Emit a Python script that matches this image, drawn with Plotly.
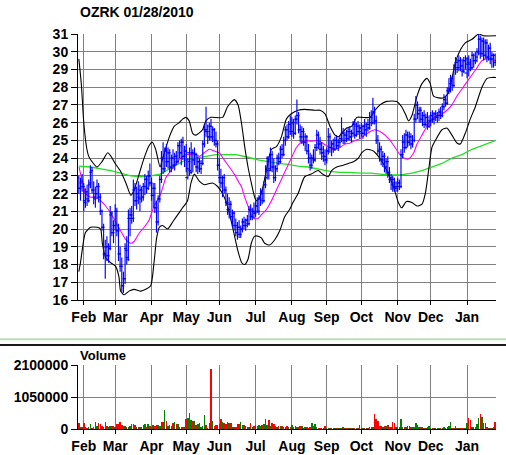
import plotly.graph_objects as go

title_text = "OZRK 01/28/2010"
month_labels = ["Feb", "Mar", "Apr", "May", "Jun", "Jul", "Aug", "Sep", "Oct", "Nov", "Dec", "Jan"]
month_start_idx = [3, 22, 44, 65, 85, 107, 129, 150, 171, 193, 213, 235]
price_ticks = list(range(16, 32))
volume_ticks = [0, 1050000, 2100000]

# daily OHLC (trading-day index 0 = 2009-01-28)
ohlc_rows = [
    (22.9, 23.0, 22.0, 22.3), (22.3, 22.9, 21.6, 22.7), (22.6, 23.1, 22.1, 22.4), (22.4, 22.6, 21.0, 21.5),
    (21.6, 22.3, 21.2, 22.1), (22.1, 22.5, 21.3, 21.6), (21.7, 22.8, 21.5, 22.6), (22.5, 23.6, 22.3, 23.3),
    (23.2, 23.5, 22.0, 22.2), (22.2, 22.7, 21.4, 21.7), (21.8, 22.4, 21.2, 22.0), (22.0, 22.8, 21.7, 22.4),
    (22.4, 22.6, 21.5, 21.8), (21.8, 22.0, 20.8, 21.0), (21.0, 21.1, 19.9, 20.1), (20.1, 20.3, 18.3, 18.6),
    (18.6, 19.4, 17.2, 19.0), (19.0, 19.6, 18.2, 18.5), (18.5, 19.2, 18.1, 18.9), (19.0, 21.3, 18.8, 20.9),
    (20.8, 21.0, 19.6, 19.8), (19.8, 20.5, 19.2, 20.2), (20.2, 21.4, 19.9, 21.0), (21.0, 21.2, 19.6, 19.9),
    (19.9, 20.3, 18.2, 18.6), (18.6, 19.0, 17.6, 17.9), (17.9, 18.4, 16.4, 16.8), (16.8, 17.6, 16.4, 17.2),
    (17.2, 19.2, 16.9, 18.8), (18.9, 19.6, 18.0, 18.3), (18.4, 21.1, 18.2, 20.6), (20.6, 21.2, 19.6, 20.8),
    (20.8, 21.3, 20.3, 20.6), (20.6, 22.8, 20.4, 22.3), (22.2, 22.6, 21.3, 21.6), (21.6, 22.4, 21.1, 22.0),
    (22.0, 22.7, 21.4, 21.7), (21.8, 22.5, 21.0, 22.2), (22.2, 22.4, 21.5, 21.8), (21.8, 22.6, 21.6, 22.4),
    (22.4, 23.1, 21.9, 22.8), (22.8, 23.0, 22.0, 22.3), (22.3, 23.3, 22.2, 23.0), (23.0, 23.7, 22.4, 22.6),
    (22.6, 22.9, 21.6, 21.9), (21.9, 22.6, 21.2, 22.3), (22.3, 22.6, 20.9, 21.2), (21.2, 21.6, 19.8, 20.4),
    (20.4, 21.9, 20.2, 21.7), (21.7, 23.0, 21.5, 22.8), (22.8, 24.4, 22.6, 24.0), (24.0, 24.9, 23.1, 23.4),
    (23.4, 24.6, 23.2, 24.4), (24.4, 24.8, 23.5, 23.8), (23.8, 24.6, 23.4, 24.3), (24.3, 24.5, 23.2, 23.5),
    (23.5, 24.2, 23.2, 24.0), (24.0, 24.5, 23.4, 23.6), (23.6, 24.3, 23.3, 24.1), (24.1, 24.4, 23.6, 23.8),
    (23.8, 24.9, 23.7, 24.7), (24.7, 25.0, 24.0, 24.3), (24.3, 25.1, 23.6, 24.9), (24.9, 25.2, 23.9, 24.1),
    (24.1, 24.7, 23.5, 24.4), (24.4, 24.8, 23.2, 23.4), (22.9, 24.0, 22.8, 23.8), (24.3, 24.6, 23.0, 23.2),
    (23.3, 24.9, 23.1, 24.3), (24.3, 24.5, 23.2, 23.9), (23.9, 24.6, 23.6, 24.2), (24.2, 24.3, 23.2, 23.5),
    (23.5, 24.1, 23.1, 23.8), (23.8, 24.0, 23.2, 23.4), (23.4, 23.9, 23.1, 23.7), (23.7, 25.0, 23.6, 24.8),
    (24.8, 25.9, 24.6, 25.6), (25.6, 26.9, 25.2, 25.5), (25.5, 25.9, 24.8, 25.2), (25.2, 26.0, 25.0, 25.8),
    (25.8, 26.2, 25.0, 25.2), (25.2, 25.8, 24.9, 25.6), (25.6, 25.7, 24.7, 25.0), (25.0, 25.5, 24.6, 24.8),
    (24.8, 25.0, 23.3, 23.6), (23.6, 24.0, 22.6, 22.9), (22.9, 23.4, 22.3, 22.6), (22.6, 23.0, 21.8, 22.9),
    (22.9, 23.1, 22.0, 22.2), (22.2, 22.4, 21.3, 21.5), (21.5, 22.0, 20.8, 21.1), (21.1, 21.8, 20.6, 21.4),
    (21.4, 21.6, 20.5, 20.7), (20.7, 21.1, 20.1, 20.9), (20.9, 21.0, 19.9, 20.2), (20.2, 20.6, 19.6, 19.8),
    (19.8, 20.4, 19.4, 20.1), (20.1, 20.5, 19.5, 19.7), (19.7, 20.2, 19.5, 20.0), (20.0, 20.6, 19.8, 20.4),
    (20.4, 20.7, 20.0, 20.2), (20.2, 20.6, 19.9, 20.5), (20.5, 20.8, 20.1, 20.3), (20.3, 21.3, 20.2, 21.1),
    (21.1, 21.4, 20.5, 20.7), (20.7, 21.2, 20.5, 21.0), (21.0, 21.5, 20.6, 20.9), (20.9, 21.6, 20.7, 21.3),
    (21.3, 21.8, 20.9, 21.0), (21.0, 21.9, 20.8, 21.7), (21.7, 22.3, 21.3, 22.0), (22.0, 22.2, 21.4, 21.6),
    (21.6, 22.7, 21.5, 22.5), (22.5, 23.6, 22.3, 23.3), (22.9, 24.1, 22.8, 23.9), (24.0, 24.1, 22.8, 23.3),
    (23.4, 24.6, 23.3, 24.2), (24.2, 24.4, 23.2, 23.5), (23.5, 24.0, 22.6, 22.9), (22.9, 23.6, 22.7, 23.4),
    (23.4, 24.2, 23.2, 24.0), (24.0, 24.3, 23.6, 23.8), (23.8, 24.7, 23.7, 24.5), (24.5, 24.8, 24.0, 24.2),
    (24.2, 25.2, 24.1, 25.0), (25.0, 25.8, 24.7, 25.6), (25.6, 25.9, 25.0, 25.2), (25.2, 26.1, 25.1, 25.9),
    (25.9, 26.4, 25.3, 25.5), (25.5, 26.3, 25.2, 26.0), (26.0, 26.2, 25.1, 25.4), (25.4, 26.4, 25.3, 26.2),
    (26.2, 27.3, 25.9, 26.4), (26.4, 26.6, 25.4, 25.6), (25.6, 25.9, 24.9, 25.2), (25.2, 25.8, 24.8, 25.5),
    (25.5, 25.7, 24.7, 24.9), (24.9, 25.4, 24.4, 25.2), (25.2, 25.3, 24.2, 24.4), (24.4, 24.8, 23.7, 24.0),
    (24.0, 24.3, 23.3, 23.6), (23.6, 24.2, 23.4, 24.0), (24.0, 24.5, 23.7, 23.9), (23.9, 24.8, 23.8, 24.6),
    (24.6, 25.6, 24.4, 25.3), (25.3, 25.5, 24.5, 24.8), (24.8, 25.2, 24.2, 24.5), (24.5, 24.9, 23.9, 24.3),
    (24.3, 24.7, 23.8, 24.1), (24.1, 24.5, 23.6, 23.9), (23.9, 24.6, 23.7, 24.4), (24.4, 25.7, 24.2, 25.2),
    (25.2, 25.4, 24.3, 24.6), (24.6, 25.0, 24.1, 24.8), (24.8, 25.1, 24.3, 24.5), (24.5, 25.2, 24.4, 25.0),
    (25.0, 25.3, 24.5, 24.7), (24.7, 25.1, 24.4, 24.9), (24.9, 25.3, 24.6, 25.1), (25.1, 26.3, 24.9, 25.4),
    (25.4, 25.7, 24.8, 25.0), (25.0, 25.5, 24.8, 25.3), (25.3, 25.6, 24.9, 25.1), (25.1, 25.7, 25.0, 25.5),
    (25.5, 25.8, 25.0, 25.2), (25.2, 25.6, 24.9, 25.4), (25.4, 26.1, 25.2, 25.9), (25.9, 26.2, 25.1, 25.3),
    (25.3, 26.0, 25.2, 25.8), (25.8, 26.1, 25.3, 25.5), (25.5, 25.9, 25.1, 25.7), (25.7, 26.0, 25.2, 25.4),
    (25.4, 25.9, 25.1, 25.8), (25.8, 26.2, 25.3, 25.6), (25.6, 26.0, 25.2, 25.9), (25.9, 26.2, 25.5, 25.7),
    (25.7, 26.6, 25.6, 26.3), (26.3, 26.7, 25.8, 26.0), (26.0, 27.4, 25.9, 26.6), (26.6, 26.9, 25.9, 26.1),
    (26.1, 26.4, 24.8, 25.0), (25.0, 25.3, 24.2, 24.4), (24.4, 24.9, 23.8, 24.5), (24.5, 24.7, 23.6, 23.9),
    (23.9, 24.4, 23.5, 24.1), (24.1, 24.3, 23.2, 23.5), (23.5, 24.0, 23.1, 23.8), (23.8, 24.1, 22.9, 23.2),
    (23.2, 23.5, 22.6, 22.8), (22.8, 23.1, 22.2, 22.5), (22.9, 23.0, 22.1, 22.6), (22.8, 22.9, 22.1, 22.3),
    (22.3, 22.7, 22.1, 22.4), (22.4, 22.9, 22.1, 22.6), (22.6, 22.8, 22.2, 22.4), (22.4, 24.5, 22.3, 24.2),
    (24.2, 25.3, 24.0, 24.9), (24.9, 25.4, 24.3, 24.6), (24.6, 25.6, 24.5, 25.3), (25.3, 25.5, 24.6, 24.9),
    (24.9, 25.5, 24.7, 25.2), (25.2, 25.4, 24.5, 24.8), (24.8, 25.3, 24.6, 25.0), (25.0, 26.5, 24.9, 26.2),
    (26.2, 27.5, 26.0, 27.0), (27.0, 27.2, 26.2, 26.5), (26.5, 26.9, 26.0, 26.7), (26.7, 26.9, 26.0, 26.2),
    (26.2, 26.6, 25.8, 26.4), (26.4, 26.7, 25.7, 25.9), (25.9, 26.5, 25.8, 26.3), (26.3, 26.6, 25.6, 25.8),
    (25.8, 26.4, 25.7, 26.1), (26.1, 26.6, 25.8, 26.4), (26.4, 26.7, 26.0, 26.2), (26.2, 26.6, 25.9, 26.5),
    (26.5, 26.7, 26.1, 26.3), (26.3, 26.6, 26.0, 26.4), (26.4, 26.8, 26.1, 26.6), (26.6, 26.9, 26.2, 26.4),
    (26.4, 27.1, 26.3, 26.9), (26.9, 27.6, 26.7, 27.3), (27.3, 27.5, 26.9, 27.1), (27.1, 28.0, 27.0, 27.8),
    (27.8, 28.5, 27.6, 28.2), (27.9, 28.7, 27.7, 28.5), (28.5, 28.6, 27.8, 28.1), (28.1, 29.3, 28.0, 29.0),
    (29.0, 29.7, 28.7, 29.4), (29.4, 29.6, 28.8, 29.1), (29.1, 29.8, 28.9, 29.5), (29.5, 29.7, 28.9, 29.2),
    (29.2, 29.6, 28.6, 28.9), (28.9, 29.7, 28.8, 29.5), (29.5, 29.8, 29.0, 29.3), (28.8, 29.7, 28.5, 29.4),
    (29.6, 29.8, 28.6, 29.0), (29.3, 29.6, 28.9, 29.1), (29.1, 30.0, 29.0, 29.8), (29.8, 29.9, 29.1, 29.5),
    (29.5, 30.0, 29.3, 29.7), (29.5, 30.2, 29.4, 30.0), (30.0, 31.0, 29.8, 30.7), (30.7, 30.9, 29.6, 29.9),
    (29.9, 30.8, 29.7, 30.6), (30.6, 30.8, 29.5, 29.8), (29.8, 30.7, 29.6, 30.5), (30.5, 30.7, 29.4, 29.7),
    (29.7, 30.4, 29.5, 30.2), (30.2, 30.5, 29.3, 29.6), (29.6, 30.0, 29.1, 29.8), (29.8, 29.9, 29.1, 29.4),
    (29.8, 29.9, 29.2, 29.5),
]
opens = [r[0] for r in ohlc_rows]
highs = [r[1] for r in ohlc_rows]
lows = [r[2] for r in ohlc_rows]
closes = [r[3] for r in ohlc_rows]

# daily volume, thousands of shares
volume_k = [
    187, 77, 60, 187, 60, 44, 77, 154, 44, 70,
    220, 90, 187, 154, 110, 55, 220, 110, 77, 99,
    88, 99, 80, 165, 165, 220, 132, 99, 99, 77,
    70, 99, 165, 165, 132, 77, 77, 60, 66, 121,
    154, 80, 154, 110, 70, 132, 88, 132, 121, 88,
    220, 242, 627, 264, 90, 143, 88, 187, 231, 165,
    154, 70, 77, 77, 77, 330, 374, 539, 286, 264,
    264, 132, 165, 209, 80, 99, 462, 121, 44, 209,
    1980, 264, 100, 132, 132, 165, 330, 242, 209, 154,
    242, 187, 187, 70, 55, 77, 165, 154, 220, 132,
    132, 99, 77, 60, 187, 77, 99, 121, 110, 132,
    110, 132, 154, 330, 120, 297, 99, 187, 165, 99,
    80, 99, 110, 110, 77, 77, 99, 60, 77, 143,
    77, 110, 77, 60, 88, 88, 44, 50, 55, 44,
    77, 187, 100, 165, 55, 33, 33, 40, 44, 99,
    44, 44, 33, 40, 33, 33, 40, 44, 33, 44,
    55, 44, 40, 33, 33, 40, 33, 44, 40, 44,
    132, 33, 40, 33, 33, 44, 50, 55, 55, 495,
    341, 275, 99, 99, 77, 88, 110, 121, 77, 60,
    231, 209, 77, 77, 60, 341, 77, 55, 77, 99,
    99, 60, 77, 55, 187, 121, 77, 60, 55, 44,
    44, 60, 99, 44, 44, 40, 44, 40, 44, 40,
    44, 55, 44, 77, 99, 231, 44, 44, 88, 40,
    44, 33, 33, 40, 44, 209, 374, 297, 77, 60,
    55, 154, 352, 484, 407, 187, 209, 77, 44, 44,
    44, 50, 242,
]
volumes = [v * 1000 for v in volume_k]

# indicator lines (day index, price)
upper_idx = [0, 1.5, 3, 4.7, 6, 8, 11, 14, 17.5, 19.5, 22, 25, 28.5, 31.5, 33.5, 36.5, 39.5, 42.5, 44.5,
             46.5, 49.2, 50.8, 54.8, 57.8, 60.8, 62.8, 64.8, 66.8, 68.9, 70.9, 74.9, 76.9, 79.9, 87.0,
             90.0, 94.1, 96.4, 98.4, 100.4, 102.4, 104.4, 106.4, 107.4, 109.5, 111.5, 113.5, 116.6,
             119.6, 122.6, 125.6, 128.6, 132.7, 136.7, 142.8, 146, 149, 152.0, 155.1, 157.1, 159.1,
             162.1, 165.2, 168.2, 171.2, 176.3, 179.3, 182.3, 186.3, 192.4, 195.4, 197.6, 199.6, 201.6,
             204.7, 207.7, 210.7, 212.7, 214.7, 217.8, 220.8, 223.8, 227.9, 230.9, 233.9, 238.0, 242.0,
             245.0, 252.5]
upper_band = [29.6, 28.2, 26.0, 24.6, 24.1, 23.8, 23.5, 23.8, 24.3, 24.1, 23.7, 23.3, 22.6, 21.9, 22.2,
              23.1, 24.0, 24.7, 24.9, 24.5, 23.5, 24.0, 25.2, 25.8, 26.0, 26.2, 26.3, 26.1, 25.4, 25.3,
              25.6, 26.1, 26.3, 26.3, 26.9, 27.3, 27.0, 26.0, 24.65, 23.5, 22.6, 21.8, 21.6, 21.8, 22.4,
              23.3, 24.5, 24.65, 25.2, 26.2, 26.5, 26.7, 26.75, 26.7, 26.7, 26.5, 25.8, 25.3, 25.2, 25.4,
              25.7, 25.8, 26.3, 26.3, 26.3, 26.7, 27.0, 27.2, 27.2, 26.9, 26.5, 26.1, 26.4, 27.5, 28.2,
              28.5, 28.2, 27.5, 27.4, 27.4, 27.7, 29.4, 30.1, 30.5, 30.7, 31.0, 30.9, 30.9]

lower_idx = [0, 1, 4, 7.1, 11.1, 13.2, 14.2, 16.2, 19.3, 22.3, 24.3, 25.3, 27.4, 30.4, 33.4, 37.5, 40.5,
             43.5, 45.5, 47.1, 48.7, 50.7, 53.7, 56.8, 59.8, 62.8, 65.8, 67.9, 69.9, 72.9, 75.9, 81.0,
             84.0, 87.0, 90.0, 93.1, 96.2, 98.6, 100.4, 102.4, 104.4, 106.4, 108.5, 110.5, 112.5, 115.5,
             118.6, 121.6, 124.6, 127.6, 129.6, 132.7, 136.7, 140.7, 144.8, 147.5, 151.0, 153.0, 156.1,
             160.1, 163.1, 166.2, 169.2, 171.2, 174.2, 178.3, 181.3, 184.3, 187.3, 190.4, 193.4, 195.4,
             198.3, 201.6, 204.7, 207.7, 209.7, 211.7, 213.7, 215.8, 219.8, 222.8, 225.8, 228.9, 230.9,
             233.9, 236.9, 240.0, 244.0, 247.1, 250.1, 252.5]
lower_band = [17.6, 18.1, 19.8, 20.1, 20.1, 20.0, 19.2, 18.4, 18.1, 17.9, 17.3, 16.5, 16.3, 16.5, 16.6,
              16.5, 16.6, 16.8, 18.1, 19.5, 20.1, 20.2, 20.0, 20.4, 20.8, 21.2, 21.6, 22.6, 23.1, 22.7,
              22.5, 22.6, 22.4, 22.0, 21.3, 20.1, 18.8, 18.1, 18.0, 18.3, 19.2, 19.6, 19.6, 19.5, 19.2,
              19.1, 19.4, 19.9, 20.7, 21.1, 21.5, 22.0, 22.95, 23.1, 23.3, 23.1, 22.95, 23.3, 23.5, 23.6,
              23.7, 23.8, 24.0, 24.3, 24.5, 24.4, 24.1, 23.7, 23.1, 22.4, 21.5, 21.2, 21.55, 21.5, 21.3,
              21.4, 22.0, 23.3, 24.6, 25.0, 25.6, 25.7, 25.3, 24.85, 24.8, 25.4, 26.2, 26.9, 28.0, 28.5,
              28.55, 28.55]

ma_short_idx = [0.1, 2.1, 4.1, 7.1, 10.1, 13.2, 16.2, 19.3, 22.3, 25.3, 28.4, 31.4, 33.4, 36.4, 39.5,
                42.5, 45.5, 49.2, 52.7, 55.8, 58.8, 61.8, 64.8, 67.9, 69.9, 72.9, 75.9, 79.0, 82.0, 85.0,
                88.0, 91.1, 94.1, 97.1, 98.4, 100.4, 102.4, 104.4, 106.4, 108.5, 110.5, 113.5, 116.6,
                119.6, 122.6, 125.6, 128.6, 131.7, 134.7, 137.7, 140.7, 143.8, 146.8, 149.0, 152.0,
                155.1, 158.1, 161.1, 164.2, 167.2, 170.2, 173.2, 176.3, 179.3, 182.3, 185.3, 188.4,
                191.4, 194.4, 197.0, 199.6, 202.7, 204.7, 207.7, 210.7, 213.7, 216.8, 219.8, 222.8,
                225.8, 228.9, 231.9, 234.9, 238.0, 241.0, 244.0, 247.1, 250.1, 252.5]
ma_short = [23.5, 22.7, 22.0, 21.8, 21.8, 21.6, 21.3, 20.9, 20.4, 19.9, 19.4, 19.2, 19.3, 19.75, 20.1,
            20.5, 21.3, 21.9, 22.9, 23.3, 23.7, 24.0, 24.2, 24.2, 24.3, 24.1, 24.3, 24.5, 24.4, 24.3,
            23.9, 23.5, 23.1, 22.6, 22.4, 21.8, 21.3, 20.8, 20.6, 20.6, 20.8, 21.1, 21.6, 22.2, 22.8,
            23.4, 24.0, 24.6, 24.9, 25.0, 24.95, 25.0, 24.9, 24.75, 24.6, 24.5, 24.6, 24.8, 24.85, 25.0,
            25.1, 25.3, 25.5, 25.6, 25.5, 25.3, 25.0, 24.6, 24.2, 24.0, 23.95, 24.3, 24.8, 25.3, 25.8,
            26.2, 26.4, 26.5, 26.7, 27.0, 27.5, 27.9, 28.3, 28.7, 29.1, 29.5, 29.6, 29.55, 29.5]

ma_long_idx = [0, 7.1, 13.2, 19.3, 25.3, 31.4, 37.5, 43.5, 49.2, 52.7, 58.8, 64.8, 70.9, 76.9, 83.0, 89.0,
               95.1, 102.4, 108.5, 114.5, 120.6, 126.6, 132.7, 138.7, 144.8, 148.4, 152.0, 158.1, 164.2,
               170.2, 176.3, 182.3, 188.4, 194.4, 198.0, 201.6, 207.7, 213.7, 219.8, 225.8, 231.9, 238.0,
               244.0, 250.1, 252.5]
ma_long = [23.55, 23.5, 23.4, 23.3, 23.15, 23.0, 22.95, 23.0, 23.1, 23.3, 23.6, 23.9, 24.0, 24.1, 24.2,
           24.2, 24.2, 24.05, 23.9, 23.8, 23.7, 23.65, 23.55, 23.5, 23.4, 23.3, 23.25, 23.2, 23.2, 23.15,
           23.15, 23.1, 23.05, 23.05, 23.1, 23.15, 23.3, 23.5, 23.7, 24.0, 24.2, 24.5, 24.7, 24.9, 25.0]

# ---------------------------------------------------------------------------
n_days = len(closes)
days = list(range(n_days))
tick_half = 1.6  # open/close tick length in days

bar_x, bar_y = [], []
for i, (o, h, l, c) in enumerate(zip(opens, highs, lows, closes)):
    bar_x += [i, i, None, i - tick_half, i, None, i, i + tick_half, None]
    bar_y += [l, h, None, o, o, None, c, c, None]

vol_colors = ["#ff0000" if c < o else "#008000" for o, c in zip(opens, closes)]

fig = go.Figure()
fig.add_trace(go.Scatter(x=ma_long_idx, y=ma_long, mode="lines",
                         line=dict(color="#22e022", width=1.3), hoverinfo="skip"))
fig.add_trace(go.Scatter(x=upper_idx, y=upper_band, mode="lines",
                         line=dict(color="black", width=1.1, shape="spline", smoothing=0.6), hoverinfo="skip"))
fig.add_trace(go.Scatter(x=lower_idx, y=lower_band, mode="lines",
                         line=dict(color="black", width=1.1, shape="spline", smoothing=0.6), hoverinfo="skip"))
fig.add_trace(go.Scatter(x=ma_short_idx, y=ma_short, mode="lines",
                         line=dict(color="#ff00ff", width=1.1, shape="spline", smoothing=0.6), hoverinfo="skip"))
fig.add_trace(go.Scatter(x=bar_x, y=bar_y, mode="lines",
                         line=dict(color="#0000ff", width=1.15), hoverinfo="skip", connectgaps=False))
fig.add_trace(go.Bar(x=days, y=volumes, marker=dict(color=vol_colors, line=dict(width=0)),
                     width=0.9, xaxis="x2", yaxis="y2", hoverinfo="skip"))

W, H = 506, 455
ml, mr, mt, mb = 78, 10, 34, 26
ph = H - mt - mb
pw = W - ml - mr


def py(y_px):
    return (H - mb - y_px) / ph


grid = "#808080"
tickfont = dict(family="Liberation Sans", size=14, color="black", weight="bold")
labelfont = dict(family="Liberation Sans", size=13, color="black", weight="bold")
common_x = dict(range=[-0.5, n_days - 0.5], tickvals=month_start_idx, ticktext=month_labels,
                showgrid=True, gridcolor=grid, gridwidth=1, ticks="outside", ticklen=4,
                tickcolor="black", showline=True, linecolor="black", linewidth=1, zeroline=False,
                tickfont=tickfont, automargin=False, fixedrange=True)
common_y = dict(showgrid=True, gridcolor=grid, gridwidth=1, ticks="outside", ticklen=6,
                tickcolor="black", showline=True, linecolor="black", linewidth=1, zeroline=False,
                tickfont=tickfont, automargin=False, fixedrange=True)

fig.update_layout(
    width=W, height=H,
    margin=dict(l=ml, r=mr, t=mt, b=mb),
    paper_bgcolor="white", plot_bgcolor="white",
    showlegend=False, bargap=0,
    xaxis=dict(domain=[0, 1], anchor="y", rangeslider=dict(visible=False), **common_x),
    yaxis=dict(domain=[py(300), 1], anchor="x", range=[16, 31], tickvals=price_ticks, **common_y),
    xaxis2=dict(domain=[0, 1], anchor="y2", **common_x),
    yaxis2=dict(domain=[0, py(365)], anchor="x2", range=[0, 2100000], tickvals=volume_ticks,
                ticktext=[str(v) for v in volume_ticks], **common_y),
    annotations=[
        dict(text=title_text, x=0, xref="paper", y=py(12), yref="paper", xanchor="left",
             yanchor="middle", showarrow=False, font=tickfont),
        dict(text="Volume", x=0, xref="paper", y=py(355.5), yref="paper", xanchor="left",
             yanchor="middle", showarrow=False, font=labelfont),
    ],
    shapes=[
        dict(type="line", xref="paper", yref="paper", x0=-ml / pw, x1=(W - ml) / pw,
             y0=py(339.2), y1=py(339.2), line=dict(color="#c0dcc0", width=2)),
        dict(type="line", xref="paper", yref="paper", x0=-ml / pw, x1=(W - ml) / pw,
             y0=py(345), y1=py(345), line=dict(color="#1a1a1a", width=2)),
    ],
)

fig.write_html("out.html", config={"displayModeBar": False, "staticPlot": True},
               post_script="document.body.style.margin='0';")
